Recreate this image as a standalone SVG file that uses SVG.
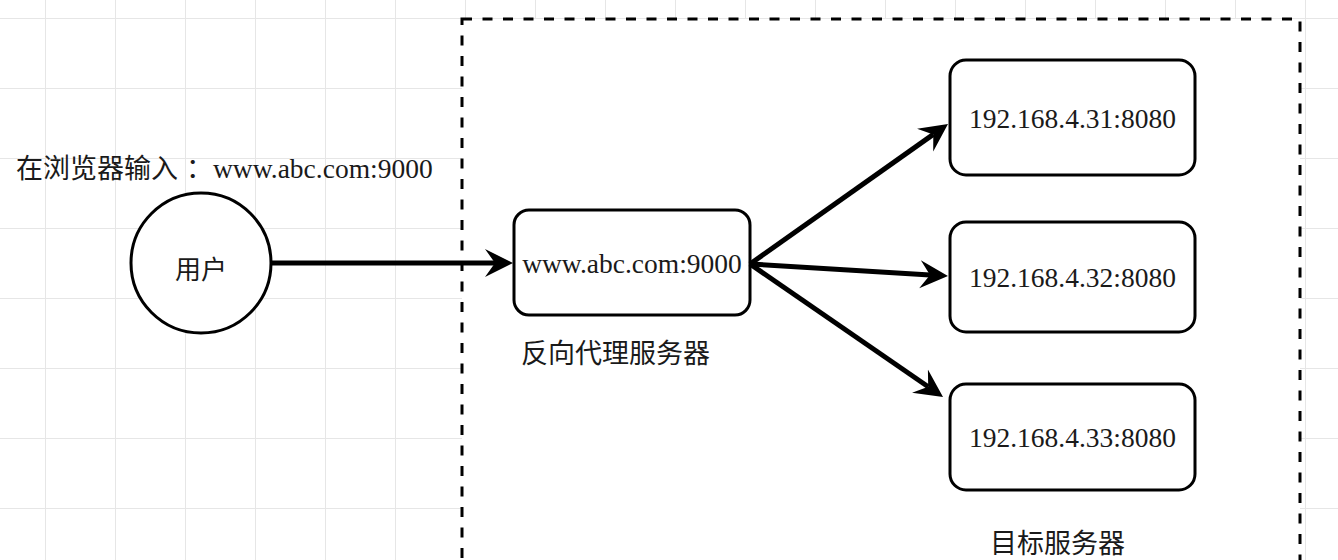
<svg xmlns="http://www.w3.org/2000/svg" width="1338" height="560" viewBox="0 0 1338 560">
<defs>
<pattern id="grid" patternUnits="userSpaceOnUse" x="45" y="18" width="70" height="70">
<path d="M0.5 0 V70 M0 0.5 H70" fill="none" stroke="#e6e6e6" stroke-width="1"/>
</pattern>
<marker id="arrow" markerUnits="userSpaceOnUse" markerWidth="40" markerHeight="40" viewBox="0 -20 40 40" refX="10" refY="0" orient="auto">
<path d="M0,-14 L28,0 L0,14 L10,0 Z" fill="#000"/>
</marker>
<style>
.box{fill:#fff;stroke:#000;stroke-width:3}
.edge{fill:none;stroke:#000;stroke-width:5;marker-end:url(#arrow)}
.serif{font-family:"Liberation Serif","Times New Roman",serif;font-size:27.5px;fill:#1a1a1a}
.cjk{font-family:"Noto Sans CJK SC","Noto Sans",sans-serif;font-size:27px;fill:#1a1a1a}
</style>
</defs>
<rect width="1338" height="560" fill="#fff"/>
<rect width="1338" height="560" fill="url(#grid)"/>
<g id="container">
<rect x="462" y="19" width="838" height="600" fill="#fff" stroke="#000" stroke-width="3" stroke-dasharray="10 10.5"/>
</g>
<g id="label-input">
<text x="16" y="178"><tspan class="cjk">在浏览器输入</tspan><tspan class="cjk" dx="8">：</tspan><tspan class="serif">www.abc.com:9000</tspan></text>
</g>
<g id="user">
<circle cx="201" cy="263" r="70" fill="#fff" stroke="#000" stroke-width="3"/>
<text x="201" y="279" text-anchor="middle" class="cjk" style="font-size:26px">用户</text>
</g>
<g id="proxy">
<rect class="box" x="514" y="210" width="236" height="105" rx="15"/>
<text x="632" y="273" text-anchor="middle" class="serif">www.abc.com:9000</text>
</g>
<g id="proxy-label">
<text x="521" y="363" class="cjk">反向代理服务器</text>
</g>
<g id="server1">
<rect class="box" x="950" y="60" width="245" height="115" rx="16"/>
<text x="1072.5" y="128" text-anchor="middle" class="serif">192.168.4.31:8080</text>
</g>
<g id="server2">
<rect class="box" x="950" y="222" width="245" height="110" rx="16"/>
<text x="1072.5" y="287" text-anchor="middle" class="serif">192.168.4.32:8080</text>
</g>
<g id="server3">
<rect class="box" x="950" y="384" width="245" height="106" rx="16"/>
<text x="1072.5" y="447" text-anchor="middle" class="serif">192.168.4.33:8080</text>
</g>
<g id="servers-label">
<text x="990" y="553" class="cjk">目标服务器</text>
</g>
<g id="connectors">
<path class="edge" d="M272 263 L495 263"/>
<path class="edge" d="M750 264 L933.3 134.4"/>
<path class="edge" d="M750 264 L930 274.9"/>
<path class="edge" d="M750 264 L928.2 386.8"/>
</g>
</svg>
